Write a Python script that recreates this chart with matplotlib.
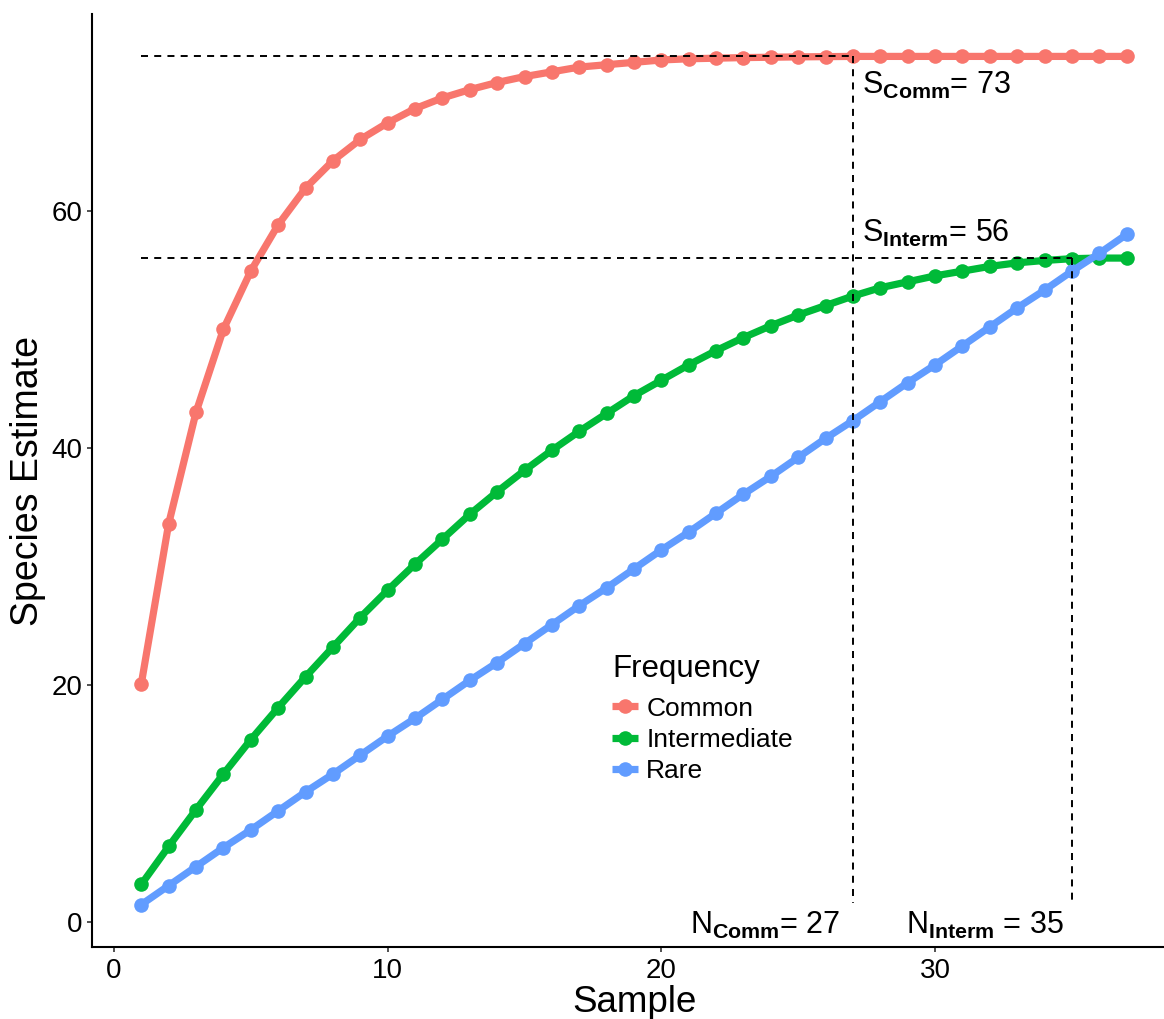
import matplotlib
matplotlib.use("Agg")
import matplotlib.pyplot as plt

plt.rcParams['font.family'] = ['Liberation Sans', 'DejaVu Sans']
plt.rcParams['mathtext.fontset'] = 'custom'
plt.rcParams['mathtext.rm'] = 'Liberation Sans'
plt.rcParams['mathtext.bf'] = 'Liberation Sans:bold'
plt.rcParams['mathtext.it'] = 'Liberation Sans:italic'

# ---- data ----
samples = list(range(1, 38))
common = [20.1, 33.6, 43.0, 50.0, 54.9, 58.8, 61.9, 64.2, 66.0, 67.4,
          68.6, 69.5, 70.2, 70.8, 71.3, 71.7, 72.1, 72.3, 72.5, 72.7,
          72.8, 72.85, 72.9, 72.93, 72.96, 72.98, 73.0, 73.0, 73.0, 73.0,
          73.0, 73.0, 73.0, 73.0, 73.0, 73.0, 73.0]
intermediate = [3.2, 6.4, 9.5, 12.5, 15.4, 18.1, 20.7, 23.2, 25.7, 28.0,
                30.2, 32.3, 34.4, 36.3, 38.1, 39.8, 41.4, 42.9, 44.4, 45.7,
                47.0, 48.2, 49.3, 50.3, 51.2, 52.0, 52.8, 53.5, 54.0, 54.5,
                54.9, 55.3, 55.6, 55.8, 55.95, 56.0, 56.0]
rare = [1.5, 3.1, 4.7, 6.3, 7.8, 9.4, 11.0, 12.5, 14.1, 15.7,
        17.2, 18.8, 20.4, 21.9, 23.5, 25.1, 26.7, 28.2, 29.8, 31.4,
        32.9, 34.5, 36.1, 37.6, 39.2, 40.8, 42.3, 43.9, 45.5, 47.0,
        48.6, 50.2, 51.8, 53.3, 54.9, 56.4, 58.0]
series_names = ["Common", "Intermediate", "Rare"]
series_colors = ["#F8766D", "#00BA38", "#619CFF"]

s_comm, n_comm = 73, 27
s_interm, n_interm = 56, 35
x_ticks = [0, 10, 20, 30]
y_ticks = [0, 20, 40, 60]

# ---- figure ----
W, H = 1164, 1019
fig = plt.figure(figsize=(W / 100, H / 100), dpi=100)
ax = fig.add_axes([92 / W, 1 - 947 / H, (1176 - 92) / W, (947 - 14) / H])

lw = 5.2
ms = 10.5
for vals, name, col in zip([common, intermediate, rare], series_names, series_colors):
    ax.plot(samples, vals, '-', color=col, lw=lw, marker='o', ms=ms,
            markeredgewidth=0, solid_capstyle='butt', label=name, zorder=2)

dash = dict(color='black', lw=1.4, dashes=(3.6, 3.2), zorder=3)
ax.plot([samples[0], n_comm], [s_comm, s_comm], **dash)
ax.plot([samples[0], n_interm], [s_interm, s_interm], **dash)
ax.plot([n_comm, n_comm], [s_comm, 1.6], **dash)
ax.plot([n_interm, n_interm], [s_interm, 1.6], **dash)

fs_ann = 22
ax.text(n_comm + 0.32, s_comm - 3.2, r"$\mathrm{S}_{\mathbf{Comm}}$= " + str(s_comm),
        fontsize=fs_ann, ha='left', va='baseline')
ax.text(n_comm + 0.32, s_interm + 1.4, r"$\mathrm{S}_{\mathbf{Interm}}$= " + str(s_interm),
        fontsize=fs_ann, ha='left', va='baseline')
ax.text(n_comm - 0.48, -0.93, r"$\mathrm{N}_{\mathbf{Comm}}$= " + str(n_comm),
        fontsize=fs_ann, ha='right', va='baseline')
ax.text(n_interm - 0.3, -0.93, r"$\mathrm{N}_{\mathbf{Interm}}$ = " + str(n_interm),
        fontsize=fs_ann, ha='right', va='baseline')

ax.set_xlim(-0.8, 38.8)
ax.set_ylim(-2.075, 76.575)
ax.set_xticks(x_ticks)
ax.set_yticks(y_ticks)
ax.tick_params(axis='both', labelsize=20, length=3.6, width=1.2, color='#333333',
               labelcolor='black')
ax.tick_params(axis='x', pad=4)
ax.tick_params(axis='y', pad=3.5)
for side in ['top', 'right']:
    ax.spines[side].set_visible(False)
for side in ['left', 'bottom']:
    ax.spines[side].set_linewidth(1.5)
    ax.spines[side].set_color('black')

ax.set_xlabel("Sample", fontsize=26.5, labelpad=1)
ax.set_ylabel("Species Estimate", fontsize=27, labelpad=4)

leg = ax.legend(title="Frequency", loc='upper left',
                bbox_to_anchor=(612 / W, 1 - 654 / H), bbox_transform=fig.transFigure,
                frameon=False, fontsize=19, title_fontsize=22.5,
                handlelength=1.0, handletextpad=0.3, labelspacing=0.28,
                borderaxespad=0, borderpad=0)
leg._legend_box.align = "left"
leg._legend_box.sep = 9

fig.savefig("out.png", dpi=100)
